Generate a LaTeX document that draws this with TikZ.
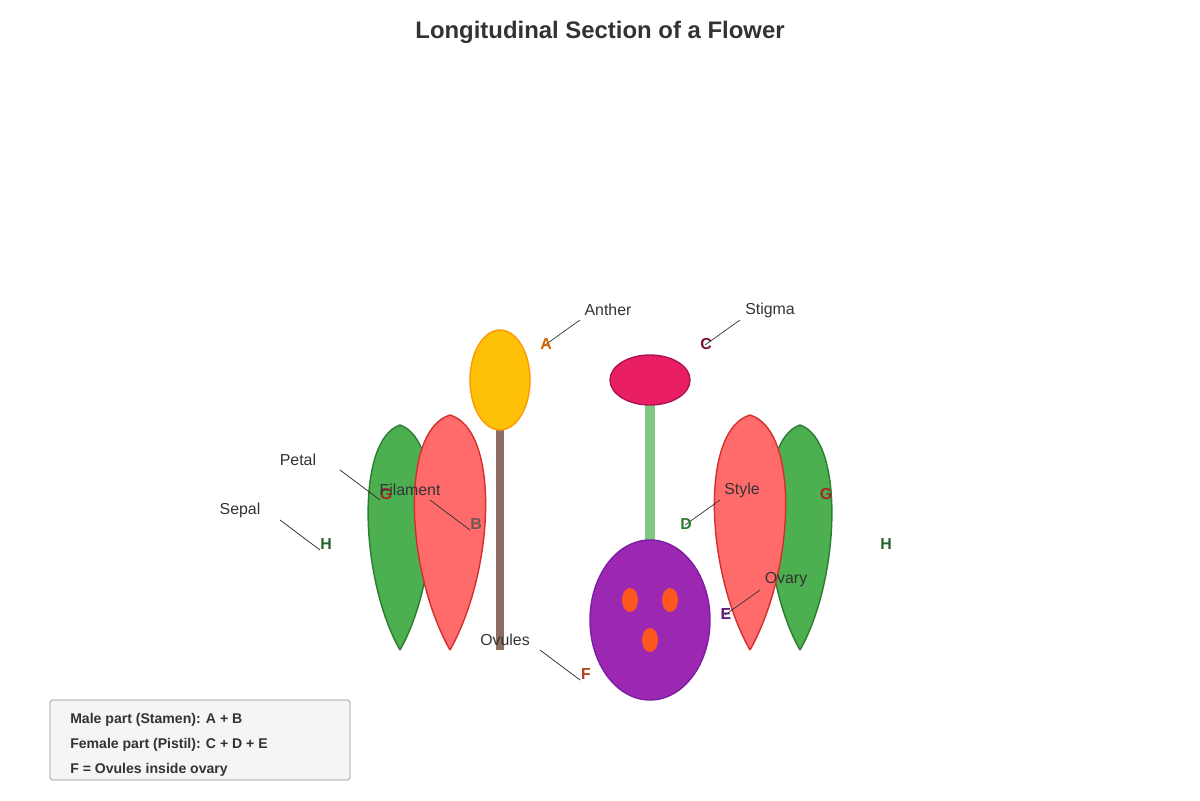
\documentclass[tikz,border=0pt]{standalone}
\usepackage{fontspec}
\setmainfont{Liberation Sans}
\usepackage{xcolor}
\usetikzlibrary{shapes.geometric}
\definecolor{sepalc}{HTML}{4CAF50}
\definecolor{sepald}{HTML}{2E7D32}
\definecolor{petalc}{HTML}{FF6B6B}
\definecolor{petald}{HTML}{D32F2F}
\definecolor{antherc}{HTML}{FFC107}
\definecolor{antherd}{HTML}{FF9800}
\definecolor{stigmac}{HTML}{E91E63}
\definecolor{stigmad}{HTML}{AD1457}
\definecolor{ovaryc}{HTML}{9C27B0}
\definecolor{ovaryd}{HTML}{7B1FA2}
\definecolor{ovulec}{HTML}{FF5722}
\definecolor{stylec}{HTML}{81C784}
\definecolor{filc}{HTML}{8D6E63}
\definecolor{txt}{HTML}{333333}
\tikzset{
  lbl/.style={text=txt, font=\fontsize{11.3}{13}\selectfont, inner sep=0pt},
  ltr/.style={font=\bfseries\fontsize{11.3}{13}\selectfont, inner sep=0pt},
  ptr/.style={draw=txt, line width=0.5pt},
}
\begin{document}
\begin{tikzpicture}[x=0.025cm, y=-0.025cm]
    \useasboundingbox (0,0) rectangle (1200,800);
    \path (600,32) node [text=txt, font=\bfseries\fontsize{17}{20}\selectfont] (title) {Longitudinal Section of a Flower};
    % left sepal and petal
    \draw [fill=sepalc, draw=sepald, line width=1pt] (400,650) .. controls (360,580) and (355,440) .. (400,425) .. controls (445,440) and (440,580) .. (400,650);
    \draw [fill=petalc, draw=petald, line width=1pt] (450,650) .. controls (405,570) and (400,430) .. (450,415) .. controls (500,430) and (495,570) .. (450,650);
    % right sepal and petal
    \draw [fill=sepalc, draw=sepald, line width=1pt] (800,650) .. controls (760,580) and (755,440) .. (800,425) .. controls (845,440) and (840,580) .. (800,650);
    \draw [fill=petalc, draw=petald, line width=1pt] (750,650) .. controls (705,570) and (700,430) .. (750,415) .. controls (800,430) and (795,570) .. (750,650);
    % stamen
    \fill [filc] (496,430) rectangle (504,650);
    \path (500,380) node [ellipse, minimum width=60*0.025cm, minimum height=100*0.025cm, fill=antherc, draw=antherd, line width=1pt, inner sep=0pt] (anther) {};
    % pistil
    \fill [stylec] (645,405) rectangle (655,540);
    \path (650,380) node [ellipse, minimum width=80*0.025cm, minimum height=50*0.025cm, fill=stigmac, draw=stigmad, line width=1pt, inner sep=0pt] (stigma) {};
    \path (650,620) node [ellipse, minimum width=120*0.025cm, minimum height=160*0.025cm, fill=ovaryc, draw=ovaryd, line width=1pt, inner sep=0pt] (ovary) {};
    \foreach \x/\y in {630/600, 670/600, 650/640}
        \path (\x,\y) node [ellipse, minimum width=16*0.025cm, minimum height=24*0.025cm, fill=ovulec, inner sep=0pt] {};
    % labels
    \path (608,310) node [lbl] (antherl) {Anther} (580,320) coordinate (a1) (545,345) coordinate (a2);
    \draw [ptr] (a1) -- (a2);
    \path (546,344) node [ltr, text=orange!80!black] (la) {A};
    \path (770,310) node [lbl] (stigmal) {Stigma} (740,320) coordinate (c1) (705,345) coordinate (c2);
    \draw [ptr] (c1) -- (c2);
    \path (706,344) node [ltr, text=stigmad!70!black] (lc) {C};
    \path (298,460) node [lbl] (petall) {Petal} (340,470) coordinate (g1) (380,500) coordinate (g2);
    \draw [ptr] (g1) -- (g2);
    \path (386,494) node [ltr, text=petald!80!black] (lg) {G};
    \path (826,494) node [ltr, text=petald!80!black] (lg2) {G};
    \path (240,510) node [lbl] (sepall) {Sepal} (280,520) coordinate (h1) (320,550) coordinate (h2);
    \draw [ptr] (h1) -- (h2);
    \path (326,544) node [ltr, text=sepald!80!black] (lh) {H};
    \path (886,544) node [ltr, text=sepald!80!black] (lh2) {H};
    \path (410,490) node [lbl] (filamentl) {Filament} (430,500) coordinate (b1) (470,530) coordinate (b2);
    \draw [ptr] (b1) -- (b2);
    \path (476,524) node [ltr, text=filc!80!black] (lb) {B};
    \path (742,490) node [lbl] (stylel) {Style} (720,500) coordinate (d1) (685,525) coordinate (d2);
    \draw [ptr] (d1) -- (d2);
    \path (686,524) node [ltr, text=sepald] (ld) {D};
    \path (786,580) node [lbl] (ovaryl) {Ovary} (760,590) coordinate (e1) (725,615) coordinate (e2);
    \draw [ptr] (e1) -- (e2);
    \path (726,614) node [ltr, text=ovaryd!70!black] (le) {E};
    \path (505,640) node [lbl] (ovulesl) {Ovules} (540,650) coordinate (f1) (580,680) coordinate (f2);
    \draw [ptr] (f1) -- (f2);
    \path (586,674) node [ltr, text=ovulec!70!black] (lf) {F};
    % legend
    \draw [fill=black!4, draw=black!25, rounded corners=2pt, line width=1pt] (50,700) rectangle (350,780);
    \path (70,720) node [anchor=west, text=txt, font=\bfseries\fontsize{10}{12}\selectfont, inner sep=0pt] (key1) {Male part (Stamen): A + B};
    \path (70,745) node [anchor=west, text=txt, font=\bfseries\fontsize{10}{12}\selectfont, inner sep=0pt] (key2) {Female part (Pistil): C + D + E};
    \path (70,770) node [anchor=west, text=txt, font=\bfseries\fontsize{10}{12}\selectfont, inner sep=0pt] (key3) {F = Ovules inside ovary};
\end{tikzpicture}
\end{document}
